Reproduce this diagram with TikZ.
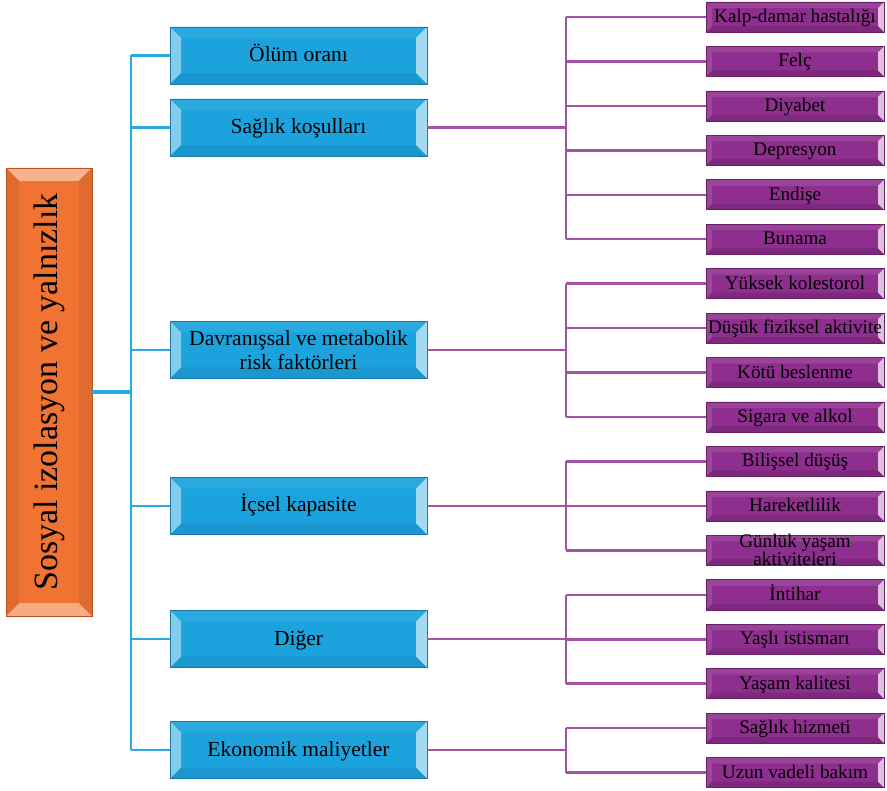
\documentclass[tikz,border=0pt]{standalone}
\usepackage{fontspec}
\usepackage{graphicx}
\setmainfont{Liberation Serif}
\definecolor{bluemain}{HTML}{1CA3DD}
\definecolor{bluedark}{HTML}{1B78A6}
\definecolor{blueline}{HTML}{29ABE2}
\definecolor{purpmain}{HTML}{8E2E8E}
\definecolor{purpdark}{HTML}{6A1F6A}
\definecolor{purpline}{HTML}{A452A4}
\definecolor{orgmain}{HTML}{F07331}
\definecolor{orgdark}{HTML}{B85420}
\newcommand\bevelbox[5]{%
  \coordinate (bvSW) at (path picture bounding box.south west);
  \coordinate (bvNE) at (path picture bounding box.north east);
  \coordinate (bvNW) at (bvSW |- bvNE);
  \coordinate (bvSE) at (bvNE |- bvSW);
  \fill[#4] (bvNW) -- (bvNE) -- ([shift={(-#1,-#1)}]bvNE) -- ([shift={(#1,-#1)}]bvNW) -- cycle;
  \fill[#5] (bvSW) -- (bvSE) -- ([shift={(-#1,#1)}]bvSE) -- ([shift={(#1,#1)}]bvSW) -- cycle;
  \fill[#2] (bvSW) -- (bvNW) -- ([shift={(#1,-#1)}]bvNW) -- ([shift={(#1,#1)}]bvSW) -- cycle;
  \fill[#3] (bvSE) -- (bvNE) -- ([shift={(-#1,-#1)}]bvNE) -- ([shift={(-#1,#1)}]bvSE) -- cycle;
}
\begin{document}
\begin{tikzpicture}[x=1pt,y=-1pt,
  bluebox/.style={draw=bluedark, line width=0.8pt, fill=bluemain,
    minimum width=257pt, minimum height=57pt, inner sep=0pt, outer sep=0pt,
    font=\fontsize{21.5}{23.5}\selectfont, align=center,
    text height=15pt, text depth=3pt,
    path picture={\bevelbox{11pt}{bluemain!55!white}{bluemain!40!white}{bluemain!94!white}{bluemain!93!black}}},
  purpbox/.style={draw=purpdark, line width=0.6pt, fill=purpmain,
    minimum width=178pt, minimum height=30pt, inner sep=0pt, outer sep=0pt,
    font=\fontsize{19.2}{19}\selectfont, align=center,
    text height=13.5pt, text depth=2.5pt,
    path picture={\bevelbox{6pt}{purpmain!88!white}{purpmain!30!white}{purpmain!90!white}{purpmain!88!black}}},
  rootbox/.style={draw=orgdark, line width=0.8pt, fill=orgmain,
    minimum width=86pt, minimum height=448pt, inner sep=0pt, outer sep=0pt,
    font=\fontsize{34}{38}\selectfont,
    path picture={\bevelbox{13pt}{orgmain!93!black}{orgmain!93!black}{orgmain!55!white}{orgmain!60!white}}},
  bconn/.style={draw=blueline, line width=2.5pt},
  pconn/.style={draw=purpline, line width=2.5pt},
]
\useasboundingbox (0,0) rectangle (887,791);

% root
\node[rootbox] (root) at (49,392) {\rotatebox{90}{Sosyal izolasyon ve yalnızlık}};

% blue level
\node[bluebox] (b1) at (298.5,55.5) {Ölüm oranı};
\node[bluebox] (b2) at (298.5,127.5) {Sağlık koşulları};
\node[bluebox, text height={}, text depth={}] (b3) at (298.5,350) {Davranışsal ve metabolik\\risk faktörleri};
\node[bluebox] (b4) at (298.5,506) {İçsel kapasite};
\node[bluebox] (b5) at (298.5,639) {Diğer};
\node[bluebox] (b6) at (298.5,750) {Ekonomik maliyetler};

% purple level
\node[purpbox] (c1)  at (795,17)    {Kalp-damar hastalığı};
\node[purpbox] (c2)  at (795,61.4)  {Felç};
\node[purpbox] (c3)  at (795,105.9) {Diyabet};
\node[purpbox] (c4)  at (795,150.3) {Depresyon};
\node[purpbox] (c5)  at (795,194.8) {Endişe};
\node[purpbox] (c6)  at (795,239.2) {Bunama};
\node[purpbox] (c7)  at (795,283.7) {Yüksek kolestorol};
\node[purpbox] (c8)  at (795,328.1) {Düşük fiziksel aktivite};
\node[purpbox] (c9)  at (795,372.6) {Kötü beslenme};
\node[purpbox] (c10) at (795,417)   {Sigara ve alkol};
\node[purpbox] (c11) at (795,461.5) {Bilişsel düşüş};
\node[purpbox] (c12) at (795,505.9) {Hareketlilik};
\node[purpbox] (c13) at (795,550.4) {};
\node[font=\fontsize{19.2}{18.5}\selectfont, align=center, inner sep=0pt] (c13t) at (795,550) {Günlük yaşam\\aktiviteleri};
\node[purpbox] (c14) at (795,594.8) {İntihar};
\node[purpbox] (c15) at (795,639.3) {Yaşlı istismarı};
\node[purpbox] (c16) at (795,683.7) {Yaşam kalitesi};
\node[purpbox] (c17) at (795,728.2) {Sağlık hizmeti};
\node[purpbox] (c18) at (795,772.6) {Uzun vadeli bakım};

% trunk connectors
\coordinate (trunk) at (131,0);
\draw[draw=blueline, line width=3.5pt] (root.east) -- (root.east -| trunk);
\draw[bconn] (b1.west -| trunk) -- (b6.west -| trunk);
\foreach \b in {b1,b2,b3,b4,b5,b6} \draw[bconn] (\b.west -| trunk) -- (\b.west);

% purple buses
\coordinate (bus) at (566,0);
\draw[pconn] (b2.east) -- (b2.east -| bus);
\draw[pconn] (c1.west -| bus) -- (c6.west -| bus);
\draw[pconn] (b3.east) -- (b3.east -| bus);
\draw[pconn] (c7.west -| bus) -- (c10.west -| bus);
\draw[pconn] (b4.east) -- (b4.east -| bus);
\draw[pconn] (c11.west -| bus) -- (c13.west -| bus);
\draw[pconn] (b5.east) -- (b5.east -| bus);
\draw[pconn] (c14.west -| bus) -- (c16.west -| bus);
\draw[pconn] (b6.east) -- (b6.east -| bus);
\draw[pconn] (c17.west -| bus) -- (c18.west -| bus);
\foreach \c in {c1,c2,c3,c4,c5,c6,c7,c8,c9,c10,c11,c12,c13,c14,c15,c16,c17,c18}
  \draw[pconn] (\c.west -| bus) -- (\c.west);
\end{tikzpicture}
\end{document}
